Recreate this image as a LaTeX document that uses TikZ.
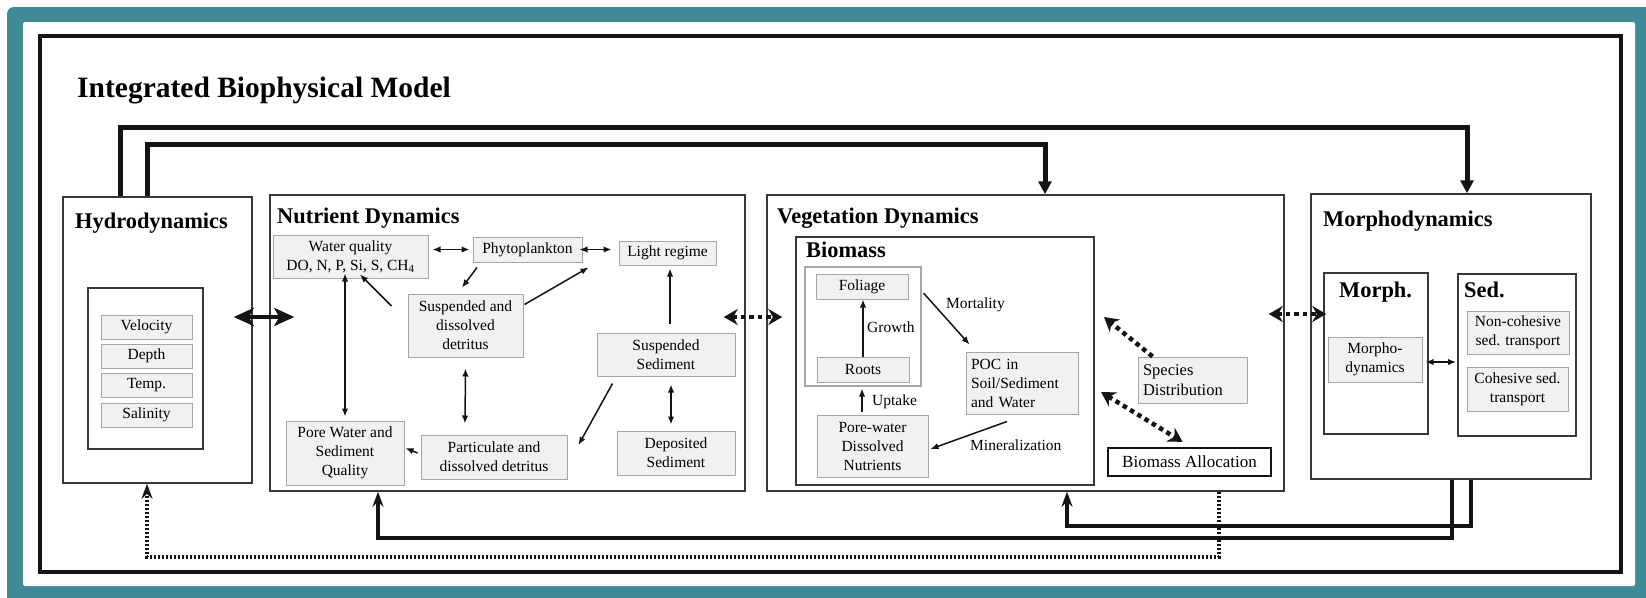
\documentclass[tikz,border=0pt]{standalone}
\usepackage{fontspec}
\setmainfont{Liberation Serif}
\usetikzlibrary{arrows.meta}
\definecolor{rim}{HTML}{3E8B97}
\definecolor{boxline}{HTML}{383838}
\definecolor{cellline}{HTML}{A6A6A6}
\definecolor{cellbg}{HTML}{F1F1F1}
\definecolor{ink}{HTML}{141414}
\newcommand{\cellfont}{\fontsize{15.5}{19}\selectfont}
\newcommand{\headfont}{\bfseries\fontsize{22.4}{26}\selectfont}
\tikzset{
  sz/.style 2 args={minimum width=#1pt, minimum height=#2pt},
  outer/.style={draw=ink, line width=4.5pt},
  title/.style={anchor=base west, inner sep=0pt, font=\bfseries\fontsize{29.5}{32}\selectfont},
  frame/.style={draw=boxline, line width=1.5pt, fill=white},
  inner/.style={draw=boxline, line width=2pt, fill=white},
  plant/.style={draw=cellline, line width=1.2pt},
  cell/.style={draw=cellline, line width=1pt, fill=cellbg, align=center, inner sep=0pt, font=\cellfont},
  alloc/.style={draw=ink, line width=2.2pt, fill=white, inner sep=0pt, font=\fontsize{17}{20}\selectfont},
  head/.style={anchor=base west, inner sep=0pt, font=\headfont},
  lbl/.style={anchor=west, inner sep=0pt, font=\cellfont},
  arr/.style={draw=ink, line width=1.5pt, -{Latex[length=8pt,width=6.5pt]}},
  arrs/.style={draw=ink, line width=1.5pt, {Latex[length=8pt,width=6.5pt]}-{Latex[length=8pt,width=6.5pt]}},
  big/.style={draw=ink, line width=4pt, {Stealth[length=20pt,width=18pt,inset=5pt]}-{Stealth[length=20pt,width=18pt,inset=5pt]}},
  link/.style={draw=ink, line width=4.5pt, dash pattern=on 4.5pt off 4pt, {Stealth[length=14pt,width=16pt]}-{Stealth[length=14pt,width=16pt]}},
  linkr/.style={draw=ink, line width=4.5pt, dash pattern=on 4.5pt off 4pt, -{Stealth[length=14pt,width=16pt]}},
  bus/.style={draw=ink, line width=5pt, -{Triangle[length=13pt,width=13pt]}},
  busb/.style={draw=ink, line width=4.5pt, -{Stealth[length=15pt,width=11pt]}},
  fine/.style={draw=ink, line width=3.5pt, dash pattern=on 2pt off 2pt, -{Stealth[length=15pt,width=11pt]}},
}

\begin{document}
\begin{tikzpicture}[x=1pt,y=-1pt]
  \useasboundingbox (0,0) rectangle (1646,597);
  \fill[rim, rounded corners=7pt] (7,7) rectangle (1670,620);
  \fill[white, rounded corners=2pt] (23,22) rectangle (1635,586);
  \draw[outer] (40,36) rectangle (1621,572);
  \node[title] (ttl) at (77,97) {Integrated Biophysical Model};

  % hydrodynamics
  \node[frame, sz={189}{286}] (hyd) at (157.5,340) {};
  \node[head] (hydt) at (75,228) {Hydrodynamics};
  \node[inner, sz={115}{161}] (hydin) at (145.5,368.5) {};
  \node[cell, sz={91}{24}] (vel) at (146.5,327) {Velocity};
  \node[cell, sz={91}{24}] (dpt) at (146.5,356) {Depth};
  \node[cell, sz={91}{24}] (tmp) at (146.5,385) {Temp.};
  \node[cell, sz={91}{24}] (sal) at (146.5,415) {Salinity};

  % nutrient dynamics
  \node[frame, sz={475}{296}] (nut) at (507.5,343) {};
  \node[head] (nutt) at (277,223) {Nutrient Dynamics};
  \node[cell, sz={155}{43}] (wq) at (350.5,256.5) {Water quality\\DO, N, P, Si, S, CH\textsubscript{4}};
  \node[cell, sz={109}{25}] (phy) at (527.5,249.5) {Phytoplankton};
  \node[cell, sz={97}{24}] (lig) at (667.5,253) {Light regime};
  \node[cell, sz={115}{63}] (sdd) at (465.5,325.5) {Suspended and\\dissolved\\detritus};
  \node[cell, sz={138}{43}] (ssd) at (666,354.5) {Suspended\\Sediment};
  \node[cell, sz={118}{64}] (pws) at (345,453) {Pore Water and\\Sediment\\Quality};
  \node[cell, sz={146}{44}] (pdd) at (494,457) {Particulate and\\dissolved detritus};
  \node[cell, sz={118}{44}] (dsd) at (676,453) {Deposited\\Sediment};

  % vegetation dynamics
  \node[frame, sz={517}{296}] (veg) at (1025.5,343) {};
  \node[head] (vegt) at (777,223) {Vegetation Dynamics};
  \node[inner, sz={298}{248}] (bio) at (945,361) {};
  \node[head] (biot) at (806,257) {Biomass};
  \node[plant, sz={116}{119}] (pla) at (863,326.5) {};
  \node[cell, sz={92}{25}] (fol) at (862,286.5) {Foliage};
  \node[cell, sz={92}{25}] (roo) at (863,369.5) {Roots};
  \node[cell, sz={112}{62}, text width=102pt, align=left] (poc) at (1022,383) {POC in\\Soil/Sediment\\and Water};
  \node[cell, sz={111}{62}] (pwn) at (872.5,446) {Pore-water\\Dissolved\\Nutrients};
  \node[cell, sz={109}{46}, text width=99pt, align=left, font=\fontsize{16.5}{20}\selectfont] (spd) at (1192.5,380) {Species\\Distribution};
  \node[alloc, sz={163}{28}] (bal) at (1189.5,462) {Biomass Allocation};
  \node[lbl] (grw) at (867,327) {Growth};
  \node[lbl] (mtl) at (946,305) {Mortality};
  \node[lbl] (upt) at (872,402) {Uptake};
  \node[lbl] (mnr) at (970,445) {Mineralization};

  % morphodynamics
  \node[frame, sz={280}{285}] (mor) at (1451,336.5) {};
  \node[head] (mort) at (1323,226) {Morphodynamics};
  \node[inner, sz={104}{161}] (mph) at (1376,353.5) {};
  \node[head] (mpht) at (1339,297) {Morph.};
  \node[cell, sz={94}{45}] (mdy) at (1375,359.5) {Morpho-\\dynamics};
  \node[inner, sz={118}{162}] (sed) at (1517,355) {};
  \node[head] (sedt) at (1464,297) {Sed.};
  \node[cell, sz={102}{43}] (nct) at (1518,332.5) {Non-cohesive\\sed. transport};
  \node[cell, sz={101}{44}] (cst) at (1517.5,389) {Cohesive sed.\\transport};

  % couplings between modules
  \draw[bus] ([xshift=-37.5pt]hyd.north) -- ++(0,69pt) -| ([xshift=16pt]mor.north);
  \draw[bus] ([xshift=-10.5pt]hyd.north) -- ++(0,52pt) -| ([xshift=19.5pt]veg.north);
  \draw[busb] ([xshift=1pt]mor.south) -- ++(0,-58pt) -| ([xshift=-129.5pt]nut.south);
  \draw[busb] ([xshift=20pt]mor.south) -- ++(0,-46pt) -| ([xshift=41.5pt]veg.south);
  \draw[fine] ([xshift=193.5pt]veg.south) -- ++(0,-65pt) -| ([xshift=-10.5pt]hyd.south);
  \draw[big] ([shift={(-19pt,23pt)}]hyd.east) -- ([shift={(25pt,26pt)}]nut.west);
  \draw[link] ([shift={(-22pt,26pt)}]nut.east) -- ([shift={(16pt,26pt)}]veg.west);
  \draw[link] ([shift={(-16pt,29pt)}]veg.east) -- ([shift={(16pt,22.5pt)}]mor.west);
  \draw[linkr] ([xshift=-40pt]spd.north) -- ([shift={(9pt,44pt)}]bio.east);
  \draw[link] ([shift={(6pt,-31pt)}]bio.east) -- ([shift={(-7pt,5pt)}]bal.north);

  % nutrient links
  \draw[arrs] ([shift={(4pt,7pt)}]wq.east) -- ([xshift=-3pt]phy.west);
  \draw[arrs] ([xshift=-3pt]phy.east) -- ([shift={(-7pt,3.5pt)}]lig.west);
  \draw[arr] ([shift={(-50.5pt,-5pt)}]phy.south) -- ([shift={(-3.5pt,6pt)}]sdd.north);
  \draw[arr] ([shift={(-16pt,19.5pt)}]sdd.west) -- ([shift={(9.5pt,4pt)}]wq.south);
  \draw[arr] ([shift={(1pt,-11pt)}]sdd.north east) -- ([shift={(-30pt,-2pt)}]lig.south west);
  \draw[arrs] ([shift={(-5.5pt,5pt)}]wq.south) -- ([yshift=4pt]pws.north);
  \draw[arrs] ([yshift=-11pt]sdd.south) -- ([shift={(-29pt,11pt)}]pdd.north);
  \draw[arr] ([shift={(4pt,9pt)}]ssd.north) -- ([shift={(2.5pt,-3pt)}]lig.south);
  \draw[arrs] ([shift={(5pt,-8pt)}]ssd.south) -- ([shift={(-5pt,6pt)}]dsd.north);
  \draw[arr] ([shift={(16pt,-7pt)}]ssd.south west) -- ([shift={(11pt,12pt)}]pdd.east);
  \draw[arr] ([shift={(-3pt,4pt)}]pdd.west) -- ([shift={(1pt,5pt)}]pws.east);

  % biomass links
  \draw[arr] (roo.north) -- (roo.north |- fol.south);
  \draw[arr] ([shift={(15pt,-6.5pt)}]fol.east) -- ([shift={(4pt,7pt)}]poc.north west);
  \draw[arr] ([shift={(-10.5pt,3pt)}]pwn.north) -- ([shift={(-1pt,-6pt)}]roo.south);
  \draw[arr] ([shift={(-15pt,-7pt)}]poc.south) -- ([shift={(2pt,-3pt)}]pwn.east);
  \draw[arrs] ([shift={(3pt,-2.5pt)}]mdy.east) -- ([shift={(-1pt,-7pt)}]sed.west);
\end{tikzpicture}
\end{document}
